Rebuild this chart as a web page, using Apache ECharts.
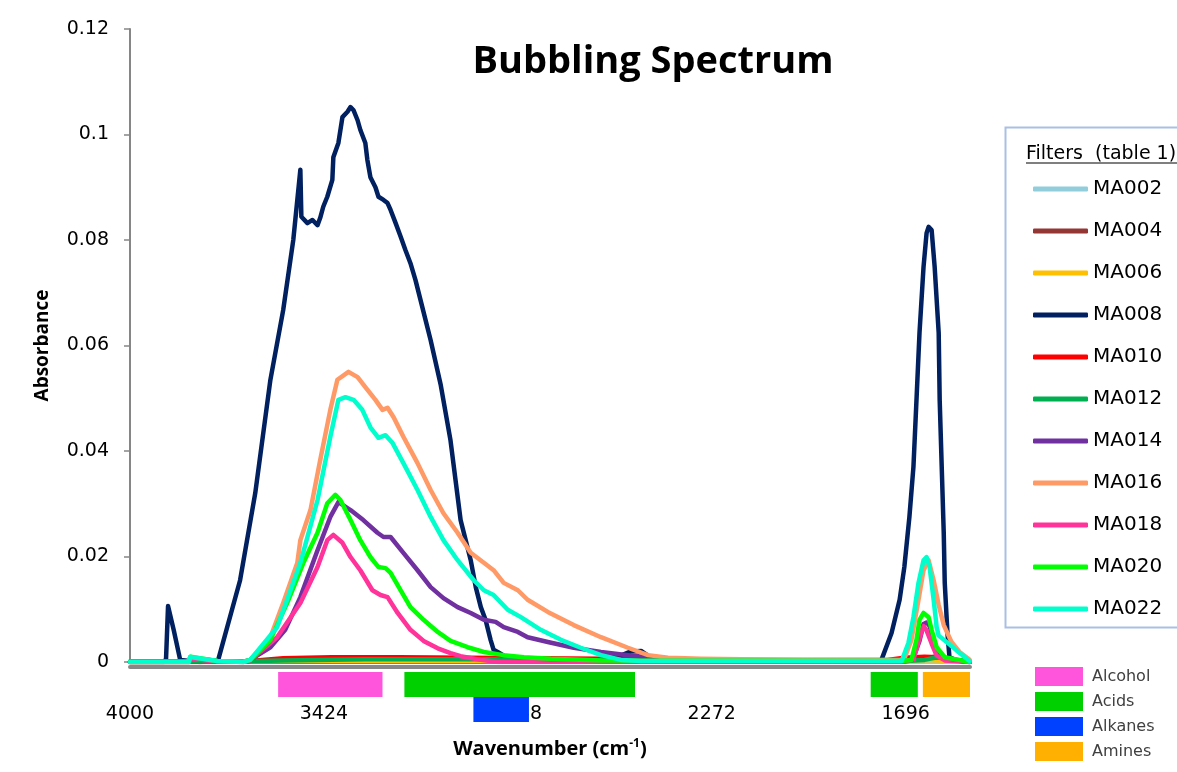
<!DOCTYPE html>
<html>
<head>
<meta charset="utf-8">
<script src="https://cdn.jsdelivr.net/npm/echarts@6/dist/echarts.min.js"></script>
<style>
html,body{margin:0;padding:0;background:#fff;}
#chart{width:1177px;height:772px;}
</style>
</head>
<body>
<div id="chart"></div>
<script>
// ---- data ----
const seriesNames = ['MA002','MA004','MA006','MA008','MA010','MA012','MA014','MA016','MA018','MA020','MA022'];
const seriesColors = ['#92CDDC','#943634','#FFC000','#002060','#FF0000','#00B050','#7030A0','#FF9966','#FF3399','#00FF00','#00FFCC'];
const wavenumberTicks = [4000, 3424, 2848, 2272, 1696];
const yTicks = [0, 0.02, 0.04, 0.06, 0.08, 0.1, 0.12];

const MA002 = [[4000,0],[3500,0],[3000,0],[2500,0],[2000,0],[1506,0]];
const MA004 = [[4000,0],[3500,0.0001],[3000,0.0001],[2000,0.0001],[1700,0.0001],[1640,0.0006],[1610,0.001],[1590,0.0009],[1560,0.0003],[1506,0]];
const MA006 = [[4000,0],[3500,0.0002],[3000,0.0002],[2000,0.0001],[1700,0.0002],[1640,0.0004],[1560,0.0002],[1506,0]];
const MA008 = [[4000,0],[3900,0],[3893,0.0005],[3887,0.0106],[3870,0.006],[3851,0.0004],[3792,0],[3738,0.0004],[3673,0.0155],[3628,0.032],[3583,0.0535],[3545,0.0667],[3515,0.08],[3494,0.0933],[3491,0.0844],[3473,0.0832],[3458,0.0838],[3443,0.0828],[3435,0.0842],[3426,0.0863],[3414,0.0882],[3399,0.0914],[3396,0.0957],[3381,0.0984],[3369,0.1033],[3354,0.1043],[3345,0.1052],[3336,0.1046],[3324,0.1027],[3316,0.1009],[3301,0.0984],[3295,0.0952],[3286,0.0919],[3271,0.09],[3262,0.0882],[3247,0.0876],[3235,0.087],[3226,0.0857],[3211,0.0832],[3196,0.0806],[3182,0.0781],[3167,0.0756],[3152,0.0724],[3137,0.0686],[3107,0.061],[3077,0.0525],[3048,0.042],[3018,0.0269],[3003,0.0231],[2988,0.0193],[2973,0.0142],[2958,0.0104],[2944,0.008],[2929,0.0042],[2920,0.0023],[2908,0.0019],[2880,0.0008],[2800,0.0005],[2600,0.0005],[2542,0.0012],[2512,0.002],[2482,0.0021],[2452,0.0008],[2420,0.0003],[2000,0.0002],[1828,0.0003],[1768,0.0004],[1738,0.0055],[1714,0.0118],[1700,0.018],[1685,0.0275],[1673,0.037],[1664,0.0496],[1655,0.0624],[1643,0.0749],[1634,0.0813],[1628,0.0825],[1619,0.0819],[1610,0.0749],[1598,0.0624],[1595,0.0496],[1589,0.037],[1583,0.0245],[1580,0.015],[1572,0.0055],[1566,0.0009],[1545,0.0003],[1506,0]];
const MA010 = [[4000,0],[3700,0],[3643,0.0002],[3545,0.0007],[3400,0.0009],[3200,0.0009],[3000,0.0008],[2800,0.0007],[2600,0.0006],[2400,0.0004],[2000,0.0004],[1750,0.0004],[1700,0.0008],[1640,0.001],[1600,0.0009],[1560,0.0004],[1506,0.0001]];
const MA012 = [[4000,0.0001],[3700,0.0001],[3545,0.0003],[3300,0.0005],[3000,0.0005],[2700,0.0004],[2400,0.0002],[1700,0.0002],[1640,0.0004],[1610,0.0008],[1580,0.0008],[1540,0.0004],[1506,0.0001]];
const MA014 = [[4000,0],[3825,0],[3821,0.0008],[3741,0.0002],[3664,0],[3643,0.0004],[3583,0.0028],[3539,0.0061],[3494,0.0123],[3443,0.0212],[3405,0.0275],[3381,0.0303],[3345,0.0288],[3307,0.0269],[3265,0.0245],[3247,0.0237],[3226,0.0237],[3188,0.0207],[3146,0.0174],[3107,0.0142],[3069,0.0121],[3027,0.0104],[2988,0.0093],[2949,0.008],[2914,0.0076],[2890,0.0066],[2848,0.0057],[2819,0.0047],[2759,0.0038],[2682,0.0027],[2601,0.0019],[2521,0.0013],[2461,0.0009],[2402,0.0004],[2304,0.0002],[1708,0.0002],[1673,0.0008],[1655,0.004],[1643,0.0072],[1634,0.0075],[1625,0.0068],[1613,0.004],[1598,0.0015],[1570,0.0005],[1506,0]];
const MA016 = [[4000,0],[3830,0],[3821,0.0008],[3741,0.0002],[3664,0],[3643,0.0004],[3583,0.0047],[3545,0.0112],[3503,0.0188],[3494,0.0231],[3464,0.0288],[3435,0.0383],[3405,0.0478],[3384,0.0535],[3351,0.055],[3324,0.054],[3301,0.0521],[3271,0.0497],[3250,0.0478],[3235,0.0482],[3217,0.0464],[3188,0.0427],[3146,0.0377],[3107,0.0326],[3069,0.0282],[3027,0.0245],[2988,0.0207],[2949,0.0188],[2920,0.0174],[2890,0.015],[2848,0.0136],[2819,0.0118],[2759,0.0095],[2682,0.007],[2601,0.0047],[2521,0.0027],[2461,0.0013],[2402,0.0008],[2304,0.0006],[2000,0.0004],[1708,0.0004],[1700,0.0006],[1679,0.0042],[1658,0.0118],[1643,0.0174],[1628,0.0193],[1613,0.0155],[1598,0.0108],[1583,0.007],[1560,0.0038],[1536,0.0019],[1506,0.0004]];
const MA018 = [[4000,0],[3825,0],[3821,0.0006],[3741,0.0001],[3664,0],[3643,0.0003],[3563,0.0047],[3494,0.0112],[3443,0.018],[3414,0.0231],[3396,0.0241],[3369,0.0226],[3345,0.0199],[3316,0.0174],[3280,0.0136],[3256,0.0127],[3235,0.0123],[3205,0.0093],[3167,0.0061],[3128,0.004],[3086,0.0026],[3048,0.0017],[3018,0.0011],[2958,0.0004],[2908,0],[1708,0],[1673,0.0005],[1655,0.0045],[1643,0.0068],[1634,0.006],[1619,0.0035],[1604,0.0012],[1580,0.0003],[1506,0]];
const MA020 = [[4000,0],[3825,0],[3821,0.001],[3741,0.0002],[3664,0],[3643,0.0004],[3583,0.0042],[3533,0.0112],[3485,0.0188],[3443,0.0245],[3414,0.0301],[3390,0.0317],[3375,0.0307],[3345,0.0269],[3316,0.0231],[3286,0.0199],[3262,0.018],[3241,0.0178],[3226,0.0169],[3196,0.0136],[3167,0.0104],[3128,0.008],[3086,0.0057],[3048,0.004],[2997,0.0028],[2949,0.0019],[2890,0.0013],[2830,0.0009],[2750,0.0006],[2600,0.0003],[1708,0.0002],[1679,0.0004],[1664,0.0042],[1655,0.008],[1643,0.0093],[1628,0.0085],[1619,0.0061],[1604,0.0028],[1580,0.0009],[1539,0.0004],[1506,0]];
const MA022 = [[4000,0],[3825,0],[3821,0.001],[3815,0.0009],[3741,0.0002],[3664,0],[3643,0.0004],[3563,0.0066],[3494,0.0188],[3443,0.0307],[3405,0.0427],[3381,0.0497],[3360,0.0502],[3336,0.0497],[3310,0.0478],[3286,0.0445],[3262,0.0425],[3241,0.043],[3220,0.0415],[3188,0.0377],[3146,0.0326],[3107,0.0275],[3069,0.0231],[3027,0.0193],[2979,0.0155],[2949,0.0136],[2920,0.0127],[2878,0.0099],[2839,0.0085],[2780,0.0061],[2720,0.0042],[2661,0.0027],[2601,0.0013],[2542,0.0004],[2482,0.0002],[2000,0.0002],[1708,0.0002],[1703,0.0004],[1688,0.0036],[1673,0.0085],[1658,0.015],[1643,0.0193],[1634,0.0199],[1625,0.018],[1613,0.0118],[1604,0.0066],[1598,0.005],[1569,0.0035],[1545,0.0022],[1506,0.0002]];
const seriesData = [MA002, MA004, MA006, MA008, MA010, MA012, MA014, MA016, MA018, MA020, MA022];

// functional-group bands: [from wavenumber, to wavenumber, row]
const bandRows = ['upper', 'lower'];
const bandNames = ['Alcohol', 'Acids', 'Alkanes', 'Amines'];
const bandColors = ['#FF55DD', '#00D000', '#0040FF', '#FFB000'];
const alcoholBands = [[3560, 3250, 0]];
const acidBands = [[3185, 2500, 0], [1800, 1660, 0]];
const alkaneBands = [[2980, 2815, 1]];
const amineBands = [[1645, 1505, 0]];
const bandData = [alcoholBands, acidBands, alkaneBands, amineBands];

// ---- chart ----
const chart = echarts.init(document.getElementById('chart'), null, {renderer: 'canvas'});
const LABEL_FONT = 'DejaVu Sans';
const BOLD_FONT = 'Open Sans';

function renderBand(params, api) {
  const p1 = api.coord([api.value(0), api.value(2)]);
  const p2 = api.coord([api.value(1), api.value(2)]);
  const h = api.size([0, 1])[1];
  return {
    type: 'rect',
    shape: {x: Math.min(p1[0], p2[0]), y: p1[1] - h / 2, width: Math.abs(p2[0] - p1[0]), height: h},
    style: api.style()
  };
}

const lineSeries = seriesNames.map((n, i) => ({
  name: n, type: 'line', xAxisIndex: 0, yAxisIndex: 0,
  data: seriesData[i], symbol: 'none', showSymbol: false,
  lineStyle: {color: seriesColors[i], width: 4.5, cap: 'round', join: 'round'},
  itemStyle: {color: seriesColors[i]},
  emphasis: {disabled: true}, z: 3 + i
}));
const bandSeries = bandNames.map((n, i) => ({
  name: n, type: 'custom', xAxisIndex: 1, yAxisIndex: 1,
  renderItem: renderBand, data: bandData[i],
  encode: {x: [0, 1], y: 2},
  itemStyle: {color: bandColors[i]}, z: 20, silent: true
}));

const option = {
  animation: false,
  backgroundColor: '#fff',
  title: {
    text: 'Bubbling Spectrum', left: 648, top: 38, textAlign: 'center',
    textStyle: {fontFamily: BOLD_FONT, fontWeight: 'bold', fontSize: 38, color: '#000'}
  },
  grid: [
    {left: 130, right: 207, top: 29, bottom: 110},
    {left: 130, right: 207, top: 672, height: 50}
  ],
  xAxis: [{
    type: 'value', gridIndex: 0, min: 1505, max: 4000, inverse: true,
    offset: 5,
    axisLine: {show: true, onZero: false, lineStyle: {color: '#888888', width: 4}},
    axisTick: {show: false},
    splitLine: {show: false},
    axisLabel: {customValues: wavenumberTicks, formatter: v => String(v), margin: 38, fontFamily: LABEL_FONT, fontSize: 19, color: '#000'},
    name: 'Wavenumber (cm{sup|-1})', nameLocation: 'middle', nameGap: 71,
    nameTextStyle: {fontFamily: BOLD_FONT, fontWeight: 'bold', fontSize: 20, color: '#000',
      rich: {sup: {fontFamily: BOLD_FONT, fontWeight: 'bold', fontSize: 12, color: '#000', verticalAlign: 'top', padding: [0, 0, 10, 0]}}}
  }, {
    type: 'value', gridIndex: 1, min: 1505, max: 4000, inverse: true, show: false
  }],
  yAxis: [{
    type: 'value', gridIndex: 0, min: 0, max: 0.12, interval: 0.02,
    axisLine: {show: true, lineStyle: {color: '#868686', width: 2}},
    axisTick: {show: true, length: 6, lineStyle: {color: '#868686', width: 1.5}},
    splitLine: {show: false},
    axisLabel: {margin: 21, fontFamily: LABEL_FONT, fontSize: 19, color: '#000'},
    name: 'Absorbance', nameLocation: 'middle', nameGap: 78,
    nameTextStyle: {fontFamily: BOLD_FONT, fontWeight: 'bold', fontSize: 19, color: '#000'}
  }, {
    type: 'category', gridIndex: 1, data: bandRows, inverse: true, show: false
  }],
  legend: [{
    data: seriesNames, orient: 'vertical', left: 1028, top: 173,
    icon: 'roundRect', itemWidth: 55, itemHeight: 5, itemGap: 20,
    textStyle: {fontFamily: LABEL_FONT, fontSize: 20, color: '#000', lineHeight: 22},
    selectedMode: false
  }, {
    data: bandNames, orient: 'vertical', left: 1030, top: 662,
    icon: 'rect', itemWidth: 48, itemHeight: 19, itemGap: 6,
    textStyle: {fontFamily: LABEL_FONT, fontSize: 16, color: '#404040', lineHeight: 19, padding: [0, 0, 0, 4]},
    selectedMode: false
  }],
  graphic: [
    {type: 'rect', z: -1, shape: {x: 1005.5, y: 127.5, width: 220, height: 500},
      style: {fill: '#fff', stroke: '#A9BFE3', lineWidth: 2}},
    {type: 'text', x: 1026, y: 145, style: {text: 'Filters  (table 1)', fontFamily: LABEL_FONT, fontSize: 19, fill: '#000'}},
    {type: 'line', shape: {x1: 1026, y1: 163, x2: 1177, y2: 163}, style: {stroke: '#000', lineWidth: 1.2}}
  ],
  series: lineSeries.concat(bandSeries)
};
chart.setOption(option);
</script>
</body>
</html>
